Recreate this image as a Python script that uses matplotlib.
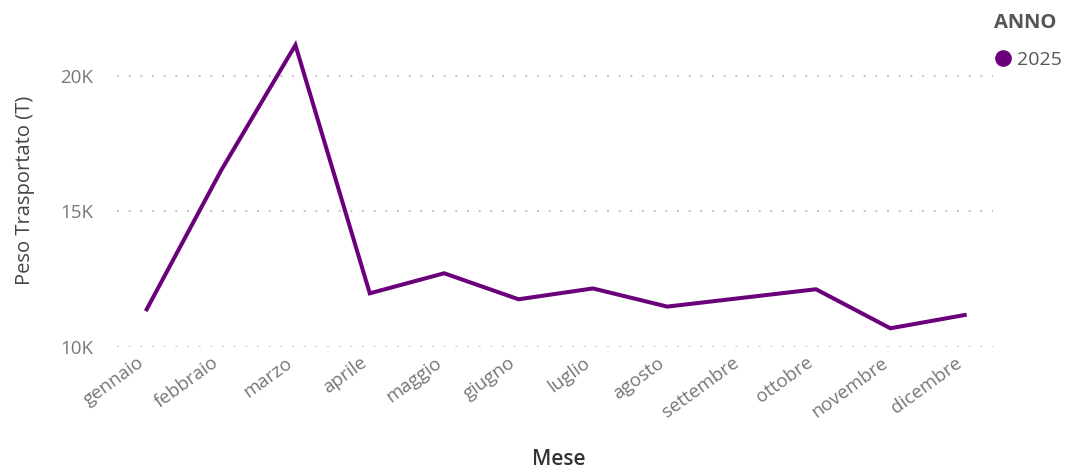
import matplotlib.pyplot as plt
import matplotlib.transforms as mtransforms
from matplotlib.lines import Line2D
from matplotlib.ticker import FuncFormatter

# monthly transported weight (tonnes), year 2025
mesi = ['gennaio', 'febbraio', 'marzo', 'aprile', 'maggio', 'giugno',
        'luglio', 'agosto', 'settembre', 'ottobre', 'novembre', 'dicembre']
peso_2025 = [11380, 16500, 21130, 11970, 12710, 11750,
             12150, 11480, 11800, 12120, 10680, 11170]
y_ticks = [10000, 15000, 20000]

plt.rcParams['font.family'] = ['Open Sans', 'DejaVu Sans']

fig = plt.figure(figsize=(10.7, 4.7), dpi=100)
ax = fig.add_axes([0.1093, 0.2623, 0.8187, 0.6632])

x = range(len(mesi))
ax.plot(x, peso_2025, color='#6B007B', linewidth=2.9, solid_joinstyle='miter')

ax.set_xlim(-0.4, len(mesi) - 1 + 0.38)
ax.set_ylim(10000, 21500)
ax.set_yticks(y_ticks)
ax.yaxis.set_major_formatter(FuncFormatter(lambda v, p: f'{int(v / 1000)}K'))
ax.grid(axis='y', color='#c4c4c4', linestyle=(0, (1, 5)), linewidth=1.4)
ax.set_axisbelow(True)

ax.set_xticks(list(x))
ax.set_xticklabels(mesi, rotation=36, ha='right', rotation_mode='anchor')
ax.tick_params(axis='both', length=0, labelsize=13.5, labelcolor='#777777')
ax.tick_params(axis='x', pad=5)
ax.tick_params(axis='y', pad=17)

# shift month labels a little to the left, like the original
shift = mtransforms.ScaledTranslation(-10 / 100, 0, fig.dpi_scale_trans)
for lbl in ax.get_xticklabels():
    lbl.set_transform(lbl.get_transform() + shift)

for s in ax.spines.values():
    s.set_visible(False)

ax.set_ylabel('Peso Trasportato (T)', fontsize=14.5, color='#444444', labelpad=18)
fig.text(0.522, 0.0, 'Mese', fontsize=15, color='#333333', ha='center',
         va='bottom', fontweight='semibold')

# legend in the top right
fig.text(0.929, 0.950, 'ANNO', fontsize=14.5, color='#555555', fontweight='bold',
         va='center')
handle = Line2D([], [], marker='o', linestyle='none', color='#6B007B',
                markersize=11)
fig.legend([handle], ['2025'], loc='center left', bbox_to_anchor=(0.913, 0.872),
           frameon=False, handletextpad=0.25, fontsize=14,
           labelcolor='#555555', handlelength=0.9)

fig.savefig('out.png', dpi=100)
